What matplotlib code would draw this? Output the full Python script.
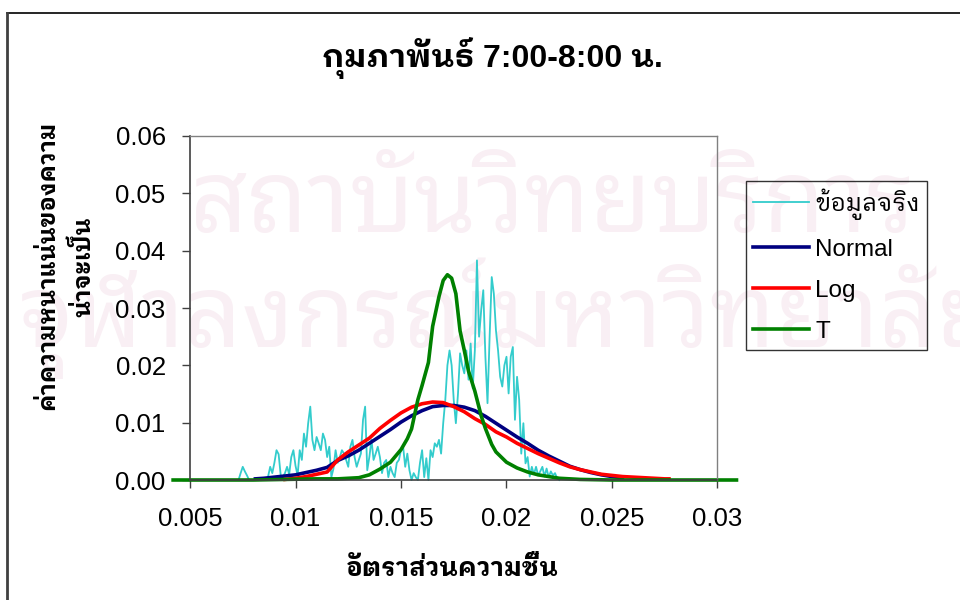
import matplotlib
matplotlib.use("Agg")
import matplotlib.pyplot as plt
from matplotlib.lines import Line2D

plt.rcParams['font.family'] = ['Liberation Sans', 'IBM Plex Sans Thai Looped',
                               'Noto Sans Thai Looped', 'DejaVu Sans']

# observed data (step 0.0001 from 0.0073)
obs_start = 0.0073
obs_step = 0.0001
obs_y = [
    0, 0.0012, 0.0023, 0.0015, 0.0008, 0, 0, 0, 0, 0,
    0, 0, 0, 0, 0.0006, 0.0023, 0.0012, 0.0030, 0.0052, 0.0045,
    0.0008, 0.0005, 0.0012, 0.0023, 0.0010, 0.0040, 0.0052, 0.0025, 0.0008, 0.0052,
    0.0035, 0.0081, 0.0058, 0.0099, 0.0128, 0.0070, 0.0052, 0.0075, 0.0064, 0.0052,
    0.0081, 0.0070, 0.0040, 0.0058, 0.0005, 0.0020, 0.0052, 0.0030, 0.0040, 0.0052,
    0.0046, 0.0035, 0.0023, 0.0058, 0.0070, 0.0040, 0.0023, 0.0035, 0.0046, 0.0105,
    0.0128, 0.0017, 0.0040, 0.0070, 0.0035, 0.0046, 0.0058, 0.0040, 0.0012, 0.0030,
    0.0035, 0.0005, 0.0023, 0.0012, 0.0005, 0.0030, 0.0035, 0.0052, 0.0058, 0.0023,
    0.0046, 0.0017, 0, 0.0012, 0.0005, 0, 0.0030, 0.0052, 0.0005, 0.0038,
    0, 0.0052, 0.0040, 0.0064, 0.0058, 0.0070, 0.0046, 0.0099, 0.0140, 0.0200,
    0.0226, 0.0200, 0.0139, 0.0099, 0.0150, 0.0221, 0.0200, 0.0186, 0.0226, 0.0175,
    0.0238, 0.0160, 0.0226, 0.0383, 0.0250, 0.0296, 0.0331, 0.0215, 0.0134, 0.0250,
    0.0354, 0.0325, 0.0261, 0.0226, 0.0180, 0.0163, 0.0200, 0.0215, 0.0151, 0.0215,
    0.0232, 0.0105, 0.0180, 0.0140, 0.0046, 0.0099, 0.0029, 0.0040, 0.0006, 0.0023,
    0.0010, 0.0023, 0.0008, 0.0015, 0.0023, 0.0006, 0.0020, 0.0005, 0.0015, 0.0008,
    0.0012, 0.0003, 0,
]
obs_x = [obs_start + i * obs_step for i in range(len(obs_y))]

# fitted normal
normal_x = [0.0081, 0.0085, 0.0090, 0.0095, 0.0100, 0.0105, 0.0110, 0.0115, 0.0120, 0.0125,
            0.0130, 0.0135, 0.0140, 0.0145, 0.0150, 0.0155, 0.0160, 0.0165, 0.0170, 0.0175,
            0.0180, 0.0185, 0.0190, 0.0195, 0.0200, 0.0205, 0.0210, 0.0215, 0.0220, 0.0225,
            0.0230, 0.0235, 0.0240, 0.0245, 0.0250, 0.0255]
normal_y = [0.0002, 0.0003, 0.0005, 0.0007, 0.0009, 0.0013, 0.0017, 0.0022, 0.0034, 0.0042,
            0.0052, 0.0064, 0.0076, 0.0088, 0.0101, 0.0112, 0.0121, 0.0128, 0.0130, 0.0130,
            0.0127, 0.0121, 0.0111, 0.0099, 0.0087, 0.0075, 0.0064, 0.0052, 0.0042, 0.0033,
            0.0024, 0.0018, 0.0013, 0.0009, 0.0006, 0.0004]

# fitted lognormal
log_x = [0.0095, 0.0100, 0.0105, 0.0110, 0.0115, 0.0120, 0.0125, 0.0130, 0.0135, 0.0140,
         0.0145, 0.0150, 0.0155, 0.0160, 0.0165, 0.0170, 0.0175, 0.0180, 0.0185, 0.0190,
         0.0195, 0.0200, 0.0205, 0.0210, 0.0215, 0.0220, 0.0225, 0.0230, 0.0235, 0.0240,
         0.0245, 0.0250, 0.0255, 0.0260, 0.0265, 0.0270, 0.0275, 0.0277]
log_y = [0.0001, 0.0003, 0.0006, 0.0010, 0.0014, 0.0035, 0.0049, 0.0061, 0.0073, 0.0090,
         0.0104, 0.0117, 0.0127, 0.0133, 0.0136, 0.0135, 0.0128, 0.0119, 0.0107, 0.0097,
         0.0084, 0.0075, 0.0064, 0.0055, 0.0046, 0.0038, 0.0030, 0.0023, 0.0018, 0.0014,
         0.0010, 0.0008, 0.0006, 0.0005, 0.0004, 0.0003, 0.0002, 0.0002]

# fitted t
t_x = [0.0042, 0.0080, 0.0095, 0.0110, 0.0120, 0.0130, 0.0135, 0.0140, 0.0145, 0.0150,
       0.0153, 0.0155, 0.0158, 0.0160, 0.0163, 0.0165, 0.0168, 0.0170, 0.0172, 0.0174,
       0.0176, 0.0178, 0.0180, 0.0182, 0.0185, 0.0188, 0.0190, 0.0193, 0.0195, 0.0200,
       0.0205, 0.0210, 0.0215, 0.0220, 0.0225, 0.0235, 0.0250, 0.0309]
t_y = [0, 0, 0.0001, 0.0002, 0.0002, 0.0004, 0.0009, 0.0019, 0.0031, 0.0053,
       0.0072, 0.0089, 0.0140, 0.0165, 0.0205, 0.0268, 0.0320, 0.0348, 0.0358, 0.0352,
       0.0325, 0.0260, 0.0226, 0.0190, 0.0155, 0.0112, 0.0090, 0.0062, 0.0049, 0.0031,
       0.0021, 0.0014, 0.0009, 0.0006, 0.0003, 0.0001, 0, 0]

labels = ['ข้อมูลจริง', 'Normal', 'Log', 'T']
colors = ['#33CCCC', '#000080', '#FF0000', '#008000']
x_ticks = [0.005, 0.01, 0.015, 0.02, 0.025, 0.03]
x_ticklabels = ['0.005', '0.01', '0.015', '0.02', '0.025', '0.03']
y_ticks = [0, 0.01, 0.02, 0.03, 0.04, 0.05, 0.06]

fig = plt.figure(figsize=(9.6, 6), dpi=100)
fig.patch.set_facecolor('white')

# faint background stamp, kept behind everything
wm = dict(color='#F9EFF4', fontsize=72, family=['Noto Sans Thai Looped'],
          ha='center', va='baseline', zorder=-5)
fig.text(0.575, 1 - 232 / 600, 'สถาบันวิทยบริการ', **wm)
fig.text(0.53, 1 - 347 / 600, 'จุฬาลงกรณ์มหาวิทยาลัย', **wm)

# outer frame
fig.add_artist(Line2D([7 / 960, 1], [1 - 13 / 600, 1 - 13 / 600], color='black', lw=1.2))
fig.add_artist(Line2D([7 / 960, 7 / 960], [0, 1 - 13 / 600], color='#404040', lw=2))

ax = fig.add_axes([190 / 960, 120 / 600, 527.5 / 960, 344 / 600])
ax.set_facecolor('none')

series = [(obs_x, obs_y), (normal_x, normal_y), (log_x, log_y), (t_x, t_y)]
widths = [1.3, 2.6, 2.6, 2.6]
for (xs, ys), lab, c, w in zip(series, labels, colors, widths):
    ax.plot(xs, ys, color=c, lw=w, label=lab, clip_on=False, solid_joinstyle='round')

ax.set_xlim(0.005, 0.03)
ax.set_ylim(0, 0.06)
ax.set_xticks(x_ticks)
ax.set_xticklabels(x_ticklabels)
ax.set_yticks(y_ticks)
ax.set_yticklabels([f'{v:.2f}' for v in y_ticks])
ax.tick_params(direction='out', length=5.5, width=1, labelsize=18.5, color='#404040')
ax.tick_params(axis='x', pad=14)
ax.tick_params(axis='y', pad=12)

for side in ['top', 'right']:
    ax.spines[side].set_color('#808080')
    ax.spines[side].set_linewidth(1)
for side in ['left', 'bottom']:
    ax.spines[side].set_color('#404040')
    ax.spines[side].set_linewidth(1.2)

leg = ax.legend(loc='upper left', bbox_to_anchor=(746 / 960, 1 - 181 / 600),
                bbox_transform=fig.transFigure, fontsize=17.5, frameon=True,
                fancybox=False, edgecolor='black', facecolor='none', borderaxespad=0,
                handlelength=2.3, handletextpad=0.25, labelspacing=0.78, borderpad=0.3)
leg.get_frame().set_linewidth(1)

fig.text(492 / 960, 1 - 58 / 600, 'กุมภาพันธ์ 7:00-8:00 น.', fontsize=23,
         fontweight='bold', ha='center', va='center')
fig.text(452 / 960, 1 - 568 / 600, 'อัตราส่วนความชื้น', fontsize=18.5,
         fontweight='bold', ha='center', va='center')
fig.text(48 / 960, 1 - 265 / 600, 'ค่าความหนาแน่นของความ', fontsize=17,
         fontweight='bold', ha='center', va='center', rotation=90)
fig.text(83 / 960, 1 - 267 / 600, 'น่าจะเป็น', fontsize=17,
         fontweight='bold', ha='center', va='center', rotation=90)

fig.savefig('out.png', dpi=100)
